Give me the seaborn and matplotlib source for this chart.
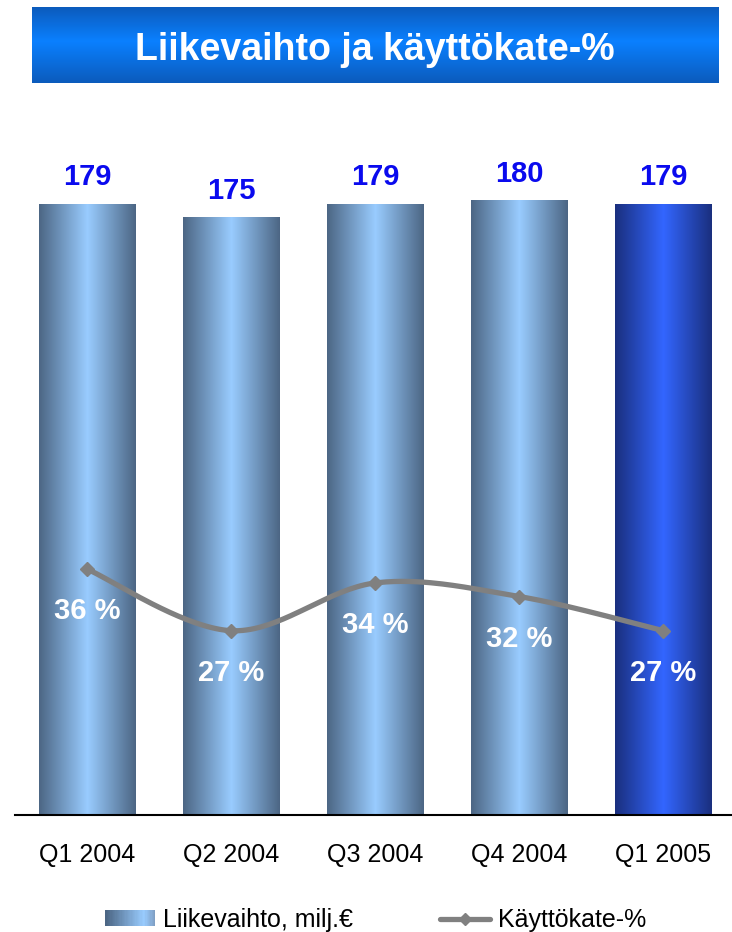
import numpy as np
import matplotlib
matplotlib.use("Agg")
import matplotlib.pyplot as plt
import seaborn as sns
from matplotlib.colors import LinearSegmentedColormap
from matplotlib.patches import Rectangle, Patch
from matplotlib.lines import Line2D
from matplotlib.legend_handler import HandlerBase

# Data
quarters = ["Q1 2004", "Q2 2004", "Q3 2004", "Q4 2004", "Q1 2005"]
revenue = [179, 175, 179, 180, 179]          # Liikevaihto, milj.€
ebitda_pct = [36, 27, 34, 32, 27]            # Käyttökate-%
title = "Liikevaihto ja käyttökate-%"
bar_label = "Liikevaihto, milj.€"
line_label = "Käyttökate-%"

# colours
GREY = "#808080"
VALUE_BLUE = "#0a0aee"
old_cmap = LinearSegmentedColormap.from_list(
    "old", [(0, "#4c6684"), (0.5, "#99ccff"), (1, "#4c6684")])
new_cmap = LinearSegmentedColormap.from_list(
    "new", [(0, "#1a2f7e"), (0.5, "#3366ff"), (1, "#1a2f7e")])
legend_cmap = LinearSegmentedColormap.from_list(
    "leg", [(0, "#4c6684"), (0.78, "#99ccff"), (1, "#7f9fc4")])
banner_cmap = LinearSegmentedColormap.from_list(
    "banner", [(0, "#0c5bbc"), (0.45, "#0a80ff"), (1, "#0c5bbc")])


def smooth(xs, ys, n=40):
    # Bezier smoothing through the points (like a spreadsheet "smoothed line")
    pts = np.column_stack([xs, ys]).astype(float)
    P = np.vstack([pts[0], pts, pts[-1]])
    t = np.linspace(0, 1, n)[:, None]
    out = []
    for i in range(1, len(P) - 2):
        p0, p1, p2, p3 = P[i - 1], P[i], P[i + 1], P[i + 2]
        c1 = p1 + (p2 - p0) / 6
        c2 = p2 - (p3 - p1) / 6
        seg = (1 - t) ** 3 * p1 + 3 * (1 - t) ** 2 * t * c1 + 3 * (1 - t) * t ** 2 * c2 + t ** 3 * p2
        out.append(seg if i == 1 else seg[1:])
    return np.vstack(out)


class GradientHandler(HandlerBase):
    def __init__(self, cmap, n=40):
        super().__init__()
        self.cmap = cmap
        self.n = n

    def create_artists(self, legend, orig_handle, xdescent, ydescent,
                       width, height, fontsize, trans):
        rects = []
        step = width / self.n
        for i in range(self.n):
            r = Rectangle((-xdescent + i * step, -ydescent), step * 1.05, height,
                          facecolor=self.cmap(i / (self.n - 1)), edgecolor="none",
                          transform=trans)
            rects.append(r)
        return rects


sns.set_theme(style="white")
plt.rcParams["font.family"] = ["Liberation Sans", "DejaVu Sans"]

W, H = 732, 932
fig = plt.figure(figsize=(W / 100, H / 100), dpi=100)

# title banner
bax = fig.add_axes([32 / W, 1 - 83 / H, 686 / W, 76 / H])
bax.imshow(np.linspace(0, 1, 200)[:, None], cmap=banner_cmap, aspect="auto",
           extent=(0, 1, 0, 1))
bax.set_xlim(0, 1)
bax.set_ylim(0, 1)
bax.axis("off")
bax.text(0.5, 0.30, title, ha="center", va="baseline", color="white",
         fontsize=27, fontweight="bold")

# main axes
ax = fig.add_axes([15.4 / W, 117 / H, 720 / W, 682.6 / H])
sns.barplot(x=quarters, y=revenue, ax=ax, width=0.673, color="#99ccff",
            saturation=1, zorder=2)

grad = np.linspace(0, 1, 256)[None, :]
for i, patch in enumerate(ax.patches):
    x0, w, h = patch.get_x(), patch.get_width(), patch.get_height()
    cmap = new_cmap if i == len(quarters) - 1 else old_cmap
    ax.imshow(grad, cmap=cmap, aspect="auto", extent=(x0, x0 + w, 0, h),
              zorder=2, interpolation="bilinear")
    patch.set_visible(False)
    ax.annotate(f"{revenue[i]}", (x0 + w / 2, h), xytext=(0, 13.7),
                textcoords="offset points", ha="center", va="baseline",
                color=VALUE_BLUE, fontsize=21, fontweight="bold")

ax.set_xlim(-0.5, 4.5)
ax.set_ylim(0, 200)
ax.set_xlabel("")
ax.set_ylabel("")
ax.set_yticks([])
ax.tick_params(axis="x", length=0, pad=20, labelsize=18, colors="black")
for s in ["top", "right", "left"]:
    ax.spines[s].set_visible(False)
ax.spines["bottom"].set_color("black")
ax.spines["bottom"].set_linewidth(1.5)
ax.patch.set_alpha(0)

# EBITDA % line on a second scale
ax2 = ax.twinx()
xpos = np.arange(len(quarters))
curve = smooth(xpos, ebitda_pct)
sns.lineplot(x=curve[:, 0], y=curve[:, 1], ax=ax2, sort=False, color=GREY,
             linewidth=3.8, estimator=None)
ax2.plot(xpos, ebitda_pct, linestyle="none", marker="D", markersize=7.5,
         color=GREY)
for xi, v in zip(xpos, ebitda_pct):
    ax2.annotate(f"{v} %", (xi, v), xytext=(0, -36), textcoords="offset points",
                 ha="center", va="baseline", color="white", fontsize=21,
                 fontweight="bold")
ax2.set_ylim(0, 100)
ax2.set_xlim(-0.5, 4.5)
ax2.set_yticks([])
ax2.set_ylabel("")
for s in ax2.spines.values():
    s.set_visible(False)

# legend
bar_handle = Patch(facecolor="#99ccff")
line_handle = Line2D([], [], color=GREY, linewidth=3.8, marker="D", markersize=6)
fig.legend([bar_handle, line_handle], [bar_label, line_label],
           handler_map={bar_handle: GradientHandler(legend_cmap)},
           loc="center", bbox_to_anchor=(0.513, 1 - 920 / H), ncol=2,
           frameon=False, fontsize=18, labelcolor="black", handlelength=2.0,
           handleheight=0.6, handletextpad=0.32, columnspacing=3.45,
           borderpad=0, borderaxespad=0)

fig.savefig("out.png", dpi=100)
